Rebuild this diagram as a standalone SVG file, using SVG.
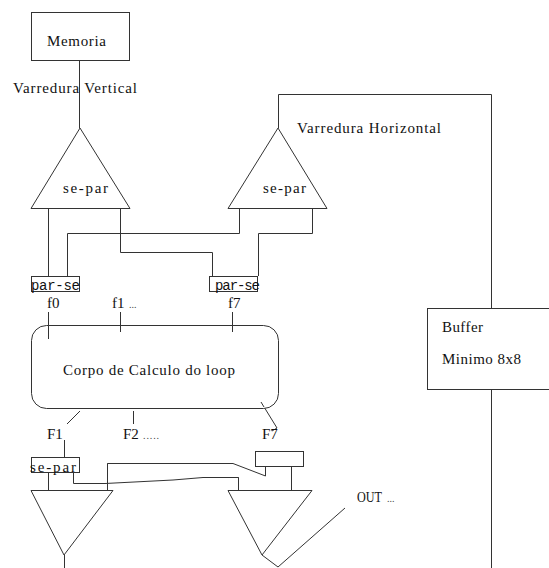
<svg xmlns="http://www.w3.org/2000/svg" width="549" height="568" viewBox="0 0 549 568">
  <style>
    .ln { fill: none; stroke: #333; stroke-width: 1; }
    .bx { fill: #fff; stroke: #333; stroke-width: 1; }
    .t { font-family: "Liberation Serif", "Times New Roman", serif; font-size: 15px; fill: #111; }
    .m { font-family: "Liberation Mono", "Courier New", monospace; font-size: 14px; fill: #111; }
    .d { font-family: "Liberation Serif", "Times New Roman", serif; font-size: 10px; fill: #444; }
  </style>
  <rect width="549" height="568" fill="#fff"/>

  <!-- connectors -->
  <g id="connectors" class="ln">
    <!-- memory to vertical scan -->
    <path d="M79.5 61 V128"/>
    <!-- buffer loop to horizontal scan -->
    <path d="M278.5 128 V94.5 H491.5 V308"/>
    <path d="M491.5 390 V568"/>
    <!-- serial/parallel crossings -->
    <path d="M48.5 209 V276"/>
    <path d="M67.5 276 V233.5 H239.5 V208"/>
    <path d="M120.5 209 V252.5 H212.5 V276"/>
    <path d="M312.5 208 V233.5 H258.5 V276"/>
    <!-- loop inputs -->
    <path d="M48.5 312 V339"/>
    <path d="M120.5 312 V332"/>
    <path d="M232.5 312 V332"/>
    <!-- loop outputs -->
    <path d="M80 411 L67 424"/>
    <path d="M133.5 411 V424"/>
    <path d="M261 402 L277 428 L272 431"/>
    <path d="M64.5 440 V457"/>
    <!-- output stage -->
    <path d="M48.5 473 V490"/>
    <path d="M73.5 473 V483.5 H105 L173 480 L203 477.5 H238.5 V490"/>
    <path d="M107.5 490 V463.5 H233 L265.5 476 V467"/>
    <path d="M291.5 467 V490"/>
    <path d="M64.5 555 V568"/>
    <path d="M262 555 L278 567 L345 508"/>
  </g>

  <g id="memoria">
    <rect class="bx" x="31.5" y="12.5" width="98" height="48"/>
    <text class="t" x="47" y="46" textLength="59" lengthAdjust="spacing">Memoria</text>
  </g>

  <g id="label-vertical">
    <text class="t" x="13" y="93" textLength="124" lengthAdjust="spacing">Varredura Vertical</text>
  </g>

  <g id="label-horizontal">
    <text class="t" x="297" y="133" textLength="144" lengthAdjust="spacing">Varredura Horizontal</text>
  </g>

  <g id="se-par-vertical">
    <polygon class="bx" points="80,128 31,208.5 130,208.5"/>
    <text class="t" x="63" y="193" textLength="45" lengthAdjust="spacing">se-par</text>
  </g>

  <g id="se-par-horizontal">
    <polygon class="bx" points="278,128 228,208.5 327,208.5"/>
    <text class="t" x="263" y="193" textLength="43" lengthAdjust="spacing">se-par</text>
  </g>

  <g id="par-se-0">
    <rect class="bx" x="31.5" y="276.5" width="48" height="15"/>
    <text class="m" x="31" y="290" textLength="49" lengthAdjust="spacing">par-se</text>
  </g>

  <g id="par-se-7">
    <rect class="bx" x="209.5" y="276.5" width="48" height="15"/>
    <text class="m" x="215" y="290" textLength="45" lengthAdjust="spacing">par-se</text>
  </g>

  <g id="input-labels">
    <text class="t" x="47" y="308">f0</text>
    <text class="t" x="112" y="308">f1</text>
    <text class="d" x="129" y="308">...</text>
    <text class="t" x="228" y="308">f7</text>
  </g>

  <g id="corpo">
    <rect class="bx" x="31.5" y="325.5" width="247" height="83" rx="15" ry="15"/>
    <text class="t" x="63" y="375" textLength="172" lengthAdjust="spacing">Corpo de Calculo do loop</text>
  </g>

  <!-- ticks that enter the loop body -->
  <g id="loop-ticks" class="ln">
    <path d="M48.5 325 V339"/>
    <path d="M120.5 325 V332"/>
    <path d="M232.5 325 V332"/>
    <path d="M261 402 L264 407"/>
  </g>

  <g id="buffer">
    <rect class="bx" x="427.5" y="308.5" width="140" height="81"/>
    <text class="t" x="442" y="332" textLength="41" lengthAdjust="spacing">Buffer</text>
    <text class="t" x="442" y="364" textLength="79" lengthAdjust="spacing">Minimo 8x8</text>
  </g>

  <g id="output-labels">
    <text class="t" x="47" y="439">F1</text>
    <text class="t" x="123" y="439">F2</text>
    <text class="d" x="143" y="439" textLength="16" lengthAdjust="spacing">.....</text>
    <text class="t" x="262" y="439">F7</text>
  </g>

  <g id="se-par-out">
    <rect class="bx" x="31.5" y="457.5" width="48" height="15"/>
    <text class="t" x="30" y="472" textLength="46" lengthAdjust="spacing">se-par</text>
  </g>

  <g id="small-box">
    <rect class="bx" x="255.5" y="451.5" width="48" height="15"/>
    <path class="ln" d="M265.5 467 V476"/>
  </g>

  <g id="out-left">
    <polygon class="bx" points="31,490.5 113,490.5 64,555"/>
  </g>

  <g id="out-right">
    <polygon class="bx" points="228,490.5 312,490.5 262,555"/>
  </g>

  <g id="out-label">
    <text class="t" x="357" y="502" textLength="25" lengthAdjust="spacingAndGlyphs">OUT</text>
    <text class="d" x="387" y="502">...</text>
  </g>

  <!-- lines passing over the output triangle bases -->
  <g class="ln">
    <path d="M48.5 473 V490"/>
    <path d="M107.5 490 V463.5"/>
    <path d="M238.5 477.5 V490"/>
    <path d="M291.5 467 V490"/>
  </g>
</svg>
